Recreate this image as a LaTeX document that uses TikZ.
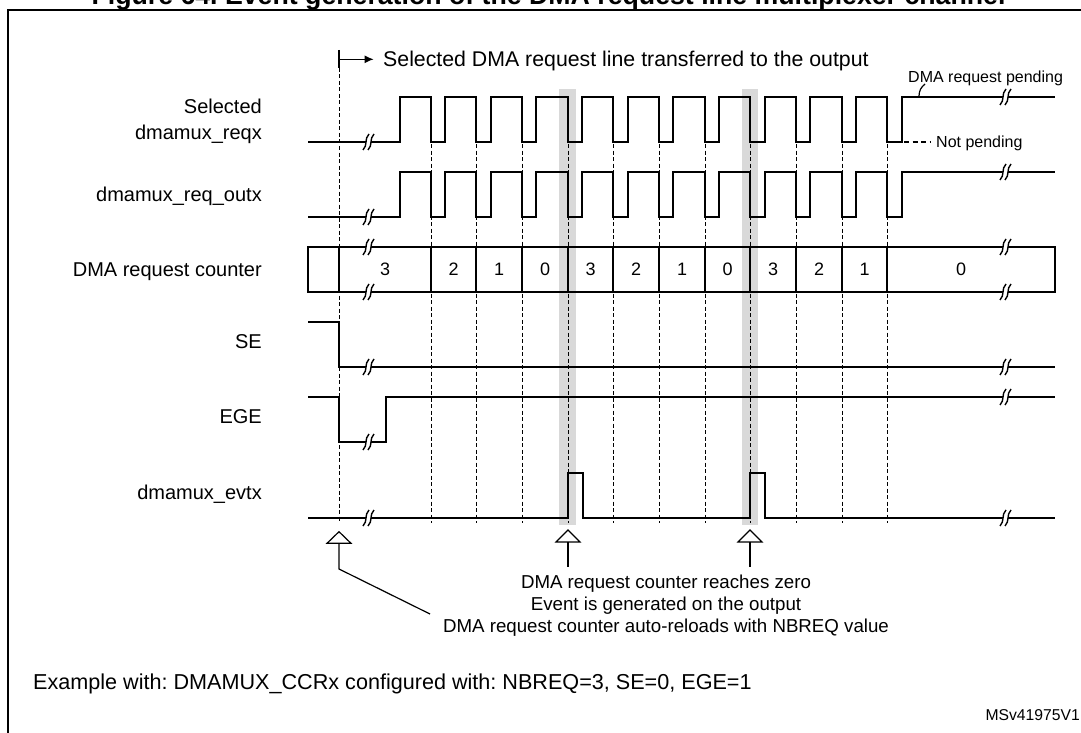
\documentclass[tikz,border=0pt]{standalone}
\usepackage{fontspec}
\setmainfont{Liberation Sans}
\usetikzlibrary{arrows.meta}
\frenchspacing

\begin{document}
\begin{tikzpicture}[
    x=1pt, y=-1pt,
    sig/.style={line width=2.8pt, line join=miter},
    guide/.style={dash pattern=on 4pt off 2.5pt, line width=0.9pt},
    band/.style={fill=black!15},
    lead/.style={line width=1.2pt},
    tri/.style={draw, fill=white, line width=1.2pt, line join=miter},
    lbl/.style={font=\fontsize{20}{24}\selectfont, anchor=base east, inner sep=0pt},
    val/.style={font=\fontsize{18}{21}\selectfont, anchor=base, inner sep=0pt},
    note/.style={font=\fontsize{18.7}{22}\selectfont, anchor=base, inner sep=0pt},
    smalltxt/.style={font=\fontsize{16}{19}\selectfont, inner sep=0pt},
    brk/.pic={
        \fill[white] (-6,8) -- (0,-8) -- (5,-8) -- (-1,8) -- cycle;
        \draw[line width=1.4pt] (-6,8) .. controls (-1,3) and (-5,-3) .. (0,-8)
            (-1,8) .. controls (4,3) and (0,-3) .. (5,-8);
    }
]
    \useasboundingbox (0,0) rectangle (1081,733);

    % Frame and title
    \draw[line width=2pt] (7.6,10.3) rectangle (1095,750);
    \node[font=\bfseries\fontsize{26.7}{30}\selectfont, anchor=base, inner sep=0pt] (title) at (548.5,4.5)
        {Figure 64. Event generation of the DMA request line multiplexer channel};

    % Shaded event windows
    \fill[band] (559,89) rectangle (576,525);
    \fill[band] (742,89) rectangle (758,525);

    % Dashed time marks
    \draw[guide] (339,68) -- (339,522);
    \draw[guide] (431,144) -- (431,523);
    \draw[guide] (476,144) -- (476,523);
    \draw[guide] (522,144) -- (522,523);
    \draw[guide] (568,144) -- (568,523);
    \draw[guide] (613,144) -- (613,523);
    \draw[guide] (659,144) -- (659,523);
    \draw[guide] (705,144) -- (705,523);
    \draw[guide] (750,144) -- (750,523);
    \draw[guide] (796,144) -- (796,523);
    \draw[guide] (842,144) -- (842,523);
    \draw[guide] (887,144) -- (887,523);

    % Transfer annotation (top)
    \coordinate (xferstart) at (339,59.3);
    \node[font=\fontsize{21.3}{25}\selectfont, anchor=west, inner sep=0pt, text height=15.2pt, text depth=0pt] (xfer) at (383,59.3)
        {Selected DMA request line transferred to the output};
    \draw[lead] (339,50) -- (339,68);
    \draw[lead, -{Latex[length=9pt,width=8pt]}] (xferstart) -- ([xshift=-9.4pt]xfer.west);

    % Signal names
    \node[lbl] (selname) at (262,113.7) {Selected};
    \node[lbl] (reqname) at (262,139.7) {dmamux\_reqx};
    \node[lbl] (outname) at (262,201) {dmamux\_req\_outx};
    \node[lbl] (cntname) at (262,276) {DMA request counter};
    \node[lbl] (sename) at (262,348.7) {SE};
    \node[lbl] (egename) at (262,423) {EGE};
    \node[lbl] (evtname) at (262,499.7) {dmamux\_evtx};

    % Selected dmamux_reqx
    \draw[sig] (308,142) -| (400,97) -| (431,142) -| (445,97) -| (476,142) -| (491,97) -| (522,142)
        -| (536,97) -| (568,142) -| (582,97) -| (613,142) -| (628,97) -| (659,142) -| (673,97)
        -| (705,142) -| (719,97) -| (750,142) -| (765,97) -| (796,142) -| (810,97) -| (842,142)
        -| (856,97) -| (887,142) -| (902,97) -- (1055,97);
    \node[smalltxt, anchor=base west] (pend) at (908,82.5) {DMA request pending};
    \draw[lead] (919,96) to[bend left=25] (925,84);
    \node[smalltxt, anchor=west, text height=11.5pt, text depth=0pt] (notpend) at (936,142) {Not pending};
    \draw[lead, dash pattern=on 5pt off 3.5pt] (904,142) -- ([xshift=-6pt]notpend.west);

    % dmamux_req_outx
    \draw[sig] (308,217) -| (400,172) -| (431,217) -| (445,172) -| (476,217) -| (491,172) -| (522,217)
        -| (536,172) -| (568,217) -| (582,172) -| (613,217) -| (628,172) -| (659,217) -| (673,172)
        -| (705,217) -| (719,172) -| (750,217) -| (765,172) -| (796,217) -| (810,172) -| (842,217)
        -| (856,172) -| (887,217) -| (902,172) -- (1055,172);

    % DMA request counter
    \draw[sig] (308,247) rectangle (1055,292);
    \draw[sig] (339,247) -- (339,292) (431,247) -- (431,292) (476,247) -- (476,292)
        (522,247) -- (522,292) (568,247) -- (568,292) (613,247) -- (613,292)
        (659,247) -- (659,292) (705,247) -- (705,292) (750,247) -- (750,292)
        (796,247) -- (796,292) (842,247) -- (842,292) (887,247) -- (887,292);
    \node[val] (c1) at (385,275.5) {3};
    \node[val] (c2) at (453.5,275.5) {2};
    \node[val] (c3) at (499,275.5) {1};
    \node[val] (c4) at (545,275.5) {0};
    \node[val] (c5) at (590.5,275.5) {3};
    \node[val] (c6) at (636,275.5) {2};
    \node[val] (c7) at (682,275.5) {1};
    \node[val] (c8) at (727.5,275.5) {0};
    \node[val] (c9) at (773,275.5) {3};
    \node[val] (c10) at (819,275.5) {2};
    \node[val] (c11) at (864.5,275.5) {1};
    \node[val] (c12) at (961,275.5) {0};

    % SE and EGE
    \draw[sig] (308,322) -| (339,367) -- (1055,367);
    \draw[sig] (308,397) -| (339,442) -| (386,397) -- (1055,397);

    % dmamux_evtx
    \draw[sig] (308,518) -| (568,473) -| (583,518) -| (750,473) -| (765,518) -- (1055,518);

    % Time breaks
    \pic at (369,142) {brk};
    \pic at (369,217) {brk};
    \pic at (369,247) {brk};
    \pic at (369,292) {brk};
    \pic at (369,367) {brk};
    \pic at (369,442) {brk};
    \pic at (369,518) {brk};
    \pic at (1006,97) {brk};
    \pic at (1006,172) {brk};
    \pic at (1006,247) {brk};
    \pic at (1006,292) {brk};
    \pic at (1006,367) {brk};
    \pic at (1006,397) {brk};
    \pic at (1006,518) {brk};

    % Event markers
    \draw[tri] (339,531.7) -- (351,543.3) -- (327,543.3) -- cycle;
    \draw[tri] (568,530) -- (580,542) -- (556,542) -- cycle;
    \draw[tri] (750,530) -- (762,542) -- (738,542) -- cycle;
    \draw[lead] (339,543.3) -- (339,569) -- (430,614);
    \draw[lead] (568,542) -- (568,567);
    \draw[lead] (750,542) -- (750,567);

    % Notes
    \node[note] (zero) at (666,588.5) {DMA request counter reaches zero};
    \node[note] (evt) at (666,610) {Event is generated on the output};
    \node[note] (reload) at (666,632.5) {DMA request counter auto-reloads with NBREQ value};
    \node[font=\fontsize{21.6}{25}\selectfont, anchor=base west, inner sep=0pt] (cfg) at (33,689.5)
        {Example with: DMAMUX\_CCRx configured with: NBREQ=3, SE=0, EGE=1};
    \node[font=\fontsize{15.7}{18}\selectfont, anchor=base east, inner sep=0pt] (ref) at (1080,720.7) {MSv41975V1};
\end{tikzpicture}
\end{document}
